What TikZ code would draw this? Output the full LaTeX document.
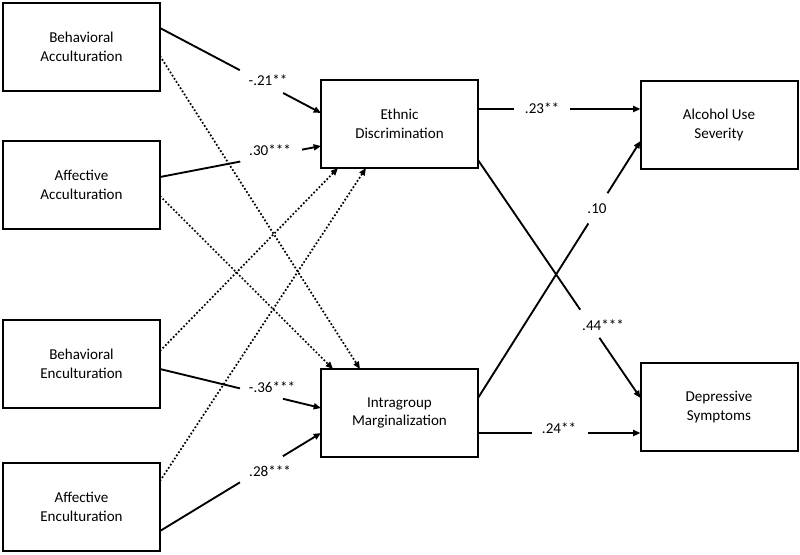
\documentclass[tikz,border=0pt]{standalone}
\usepackage{fontspec}
\setmainfont{Carlito}
\usetikzlibrary{arrows.meta,calc}
\begin{document}
\begin{tikzpicture}[x=0.75pt,y=-0.75pt,
  box/.style={draw,line width=1.5pt,minimum width=117.75pt,minimum height=66pt,outer sep=0pt,inner sep=0pt,align=center,font=\fontsize{11.3pt}{14pt}\selectfont},
  conn/.style={line width=1.4pt,-{Triangle[length=5.5pt,width=4.5pt]}},
  dotconn/.style={line width=1.3pt,dash pattern=on 1.3pt off 1.5pt,-{Triangle[length=5.5pt,width=4.5pt]}},
  gapbox/.style={sloped,fill=white,inner sep=0pt,minimum height=5pt,minimum width=#1},
  lbl/.style={inner sep=0pt,font=\fontsize{11.3pt}{13pt}\selectfont}]
\useasboundingbox (0,0) rectangle (800,554);
% boxes
\node[box] (BA) at (81.5,47) {Behavioral\\Acculturation};
\node[box] (AA) at (81.5,185) {Affective\\Acculturation};
\node[box] (BE) at (81.5,364) {Behavioral\\Enculturation};
\node[box] (AE) at (81.5,507) {Affective\\Enculturation};
\node[box] (ED) at (399.5,124) {Ethnic\\Discrimination};
\node[box] (IM) at (399.5,413) {Intragroup\\Marginalization};
\node[box] (ALC) at (719,125) {Alcohol Use\\Severity};
\node[box] (DEP) at (719,407) {Depressive\\Symptoms};
% dotted paths
\draw[dotconn] ($(BA.north east)+(0,53)$) -- ($(IM.north west)+(39,0)$);
\draw[dotconn] ($(AA.north east)+(0,55)$) -- ($(IM.north west)+(12,0)$);
\draw[dotconn] ($(BE.north east)+(0,31)$) -- ($(ED.south west)+(17,0)$);
\draw[dotconn] ($(AE.north east)+(0,18)$) -- ($(ED.south west)+(45,0)$);
% solid paths
\draw[conn] ($(BA.north east)+(0,25)$) -- node[gapbox=36.5pt,pos=.63]{} ($(ED.north west)+(0,33)$);
\draw[conn] ($(AA.north east)+(0,36)$) -- node[gapbox=47pt,pos=.69]{} ($(ED.north west)+(0,66)$);
\draw[conn] ($(BE.north east)+(0,49)$) -- node[gapbox=33pt,pos=.63]{} ($(IM.north west)+(0,39)$);
\draw[conn] ($(AE.north east)+(0,68)$) -- node[gapbox=37.5pt,pos=.63]{} ($(IM.north west)+(0,64)$);
\draw[conn] ($(ED.north east)+(0,29)$) -- node[gapbox=42pt,pos=.395]{} ($(ALC.north west)+(0,28)$);
\draw[conn] ($(IM.north east)+(0,29)$) -- node[gapbox=26.6pt,pos=.738]{} ($(ALC.north west)+(0,60)$);
\draw[conn] ($(ED.north east)+(0,80)$) -- node[gapbox=25.3pt,pos=.688]{} ($(DEP.north west)+(0,35)$);
\draw[conn] ($(IM.north east)+(0,64)$) -- node[gapbox=42pt,pos=.506]{} ($(DEP.north west)+(0,70)$);
% labels
\node[lbl] (l1) at (268,80) {-.21**};
\node[lbl] (l2) at (270,150) {.30***};
\node[lbl] (l3) at (272,387) {-.36***};
\node[lbl] (l4) at (270,471) {.28***};
\node[lbl] (l5) at (542,108) {.23**};
\node[lbl] (l6) at (597,209) {.10};
\node[lbl] (l7) at (603,325) {.44***};
\node[lbl] (l8) at (559,428) {.24**};
\end{tikzpicture}
\end{document}
